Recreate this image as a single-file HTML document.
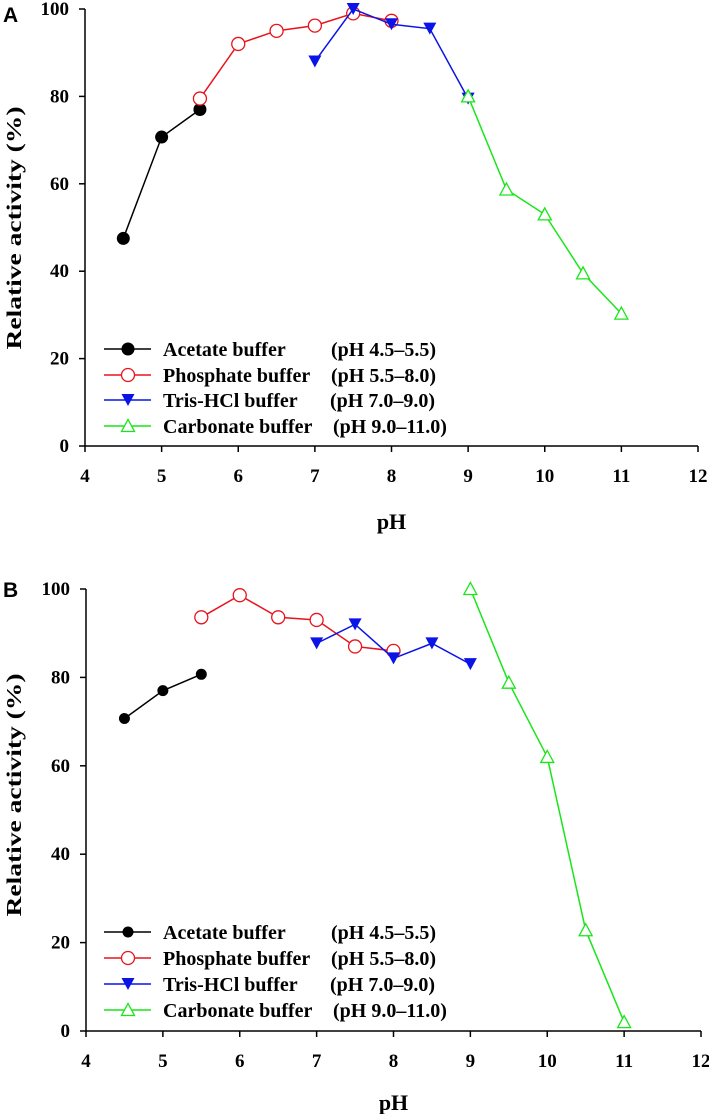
<!DOCTYPE html>
<html><head><meta charset="utf-8"><style>
html,body{margin:0;padding:0;background:#fff;}
svg{display:block;font-family:"Liberation Serif",serif;}
</style></head><body>
<svg id="chart" width="709" height="1114" viewBox="0 0 709 1114"></svg>
<script>
const phAcetate=[4.5,5,5.5];
const phPhosphate=[5.5,6,6.5,7,7.5,8];
const phTris=[7,7.5,8,8.5,9];
const phCarbonate=[9,9.5,10,10.5,11];
const aAcetate=[47.5,70.7,77];
const aPhosphate=[79.5,92,95,96.2,99,97.3];
const aTris=[88,100,96.5,95.5,79.5];
const aCarbonate=[80,58.7,53,39.5,30.3];
const bAcetate=[70.7,77,80.7];
const bPhosphate=[93.6,98.6,93.6,93,87,86];
const bTris=[87.7,92,84.3,87.7,83];
const bCarbonate=[100,78.8,62,22.8,2];
const xTicks=[4,5,6,7,8,9,10,11,12];
const yTicks=[0,20,40,60,80,100];
const legendNames=["Acetate buffer","Phosphate buffer","Tris-HCl buffer","Carbonate buffer"];
const legendRanges=["(pH 4.5–5.5)","(pH 5.5–8.0)","(pH 7.0–9.0)","(pH 9.0–11.0)"];

const NS="http://www.w3.org/2000/svg";
const svg=document.getElementById('chart');
function mk(tag,attrs,parent){const e=document.createElementNS(NS,tag);for(const k in attrs)e.setAttribute(k,attrs[k]);(parent||svg).appendChild(e);return e;}

function panel(cfg){
  const g=mk('g',{});
  
  
  const x=v=>cfg.x0+(v-4)/8*(cfg.x1-cfg.x0);
  const y=v=>cfg.y0-(v/100)*(cfg.y0-cfg.y1);
  const ya=mk('line',{x1:x(4),y1:y(0),x2:x(4),y2:y(100),stroke:'#000','stroke-width':1.5},g);
  
  const xa=mk('line',{x1:x(4),y1:y(0),x2:x(12),y2:y(0),stroke:'#000','stroke-width':1.5},g);
  
  yTicks.forEach(t=>{
    mk('line',{x1:x(4)-6,y1:y(t),x2:x(4),y2:y(t),stroke:'#000','stroke-width':1.5},g);
    const tx=mk('text',{x:x(4)-16,y:y(t)+6,'text-anchor':'end','font-size':19,'font-weight':'bold'},g);
    tx.textContent=t;
    
  });
  xTicks.forEach(t=>{
    mk('line',{x1:x(t),y1:y(0),x2:x(t),y2:y(0)+6,stroke:'#000','stroke-width':1.5},g);
    const tx=mk('text',{x:x(t),y:y(0)+36,'text-anchor':'middle','font-size':19,'font-weight':'bold'},g);
    tx.textContent=t;
    
  });
  const xt=mk('text',{x:x(8),y:cfg.xTitleY,'text-anchor':'middle','font-size':22,'font-weight':'bold'},g);
  xt.textContent='pH';
  
  const yt=mk('text',{x:0,y:0,transform:`translate(21,${cfg.yTitleC}) rotate(-90)`,'text-anchor':'middle','font-size':21,'font-weight':'bold',textLength:243,lengthAdjust:'spacingAndGlyphs'},g);
  yt.textContent='Relative activity (%)';
  
  const pl=mk('text',{x:3,y:cfg.labelY,'font-size':21,'font-weight':'bold','font-family':'Liberation Sans, sans-serif'},g);
  pl.textContent=cfg.id.toUpperCase();
  

  const series=[
    {xs:phAcetate,ys:cfg.data[0],c:'#000',m:'dot',n:'acetate'},
    {xs:phPhosphate,ys:cfg.data[1],c:'#e8131b',m:'circle',n:'phosphate'},
    {xs:phTris,ys:cfg.data[2],c:'#0a14e6',m:'down',n:'tris-hcl'},
    {xs:phCarbonate,ys:cfg.data[3],c:'#19e619',m:'up',n:'carbonate'}];
  function marker(type,cx,cyy,c,parent){
    let e;
    if(type==='dot') e=mk('circle',{cx:cx,cy:cyy,r:cfg.dotR,fill:'#000'},parent);
    else if(type==='circle') e=mk('circle',{cx:cx,cy:cyy,r:6.5,fill:'#fff',stroke:c,'stroke-width':1.3},parent);
    else if(type==='down') e=mk('polygon',{points:`${cx-6.5},${cyy-6} ${cx+6.5},${cyy-6} ${cx},${cyy+6}`,fill:c},parent);
    else e=mk('polygon',{points:`${cx-6.5},${cyy+5.5} ${cx+6.5},${cyy+5.5} ${cx},${cyy-6.5}`,fill:'#fff',stroke:c,'stroke-width':1.3},parent);
    return e;
  }
  series.forEach(s=>{
    const sg=mk('g',{},g);
    
    const pts=s.xs.map((v,i)=>x(v)+','+y(s.ys[i])).join(' ');
    const pl=mk('polyline',{points:pts,fill:'none',stroke:s.c,'stroke-width':1.5},sg);
    
    s.xs.forEach((v,i)=>{
      const m=marker(s.m,x(v),y(s.ys[i]),s.c,sg);
      
    });
  });
  const lg=mk('g',{},g);
  
  series.forEach((s,i)=>{
    const ry=cfg.legY[i];
    const eg=mk('g',{},lg);
    
    mk('line',{x1:104,y1:ry,x2:151,y2:ry,stroke:s.c,'stroke-width':1.5},eg);
    marker(s.m,128,ry,s.c,eg);
    const t1=mk('text',{x:163,y:ry+7,'font-size':20,'font-weight':'bold'},eg);t1.textContent=legendNames[i];
    const t2=mk('text',{x:i===3?333:(i===2?330:331),y:ry+7,'font-size':20,'font-weight':'bold'},eg);t2.textContent=legendRanges[i];
  });
}
panel({id:'a',x0:85,x1:698,y0:446,y1:9,xTitleY:529,labelY:22,dotR:6.5,yTitleC:228,
  data:[aAcetate,aPhosphate,aTris,aCarbonate],legY:[349,375,400,426]});
panel({id:'b',x0:86,x1:701,y0:1031,y1:589,xTitleY:1110,labelY:597,dotR:5.5,yTitleC:795,
  data:[bAcetate,bPhosphate,bTris,bCarbonate],legY:[932,958,984,1010]});
</script>
</body></html>
